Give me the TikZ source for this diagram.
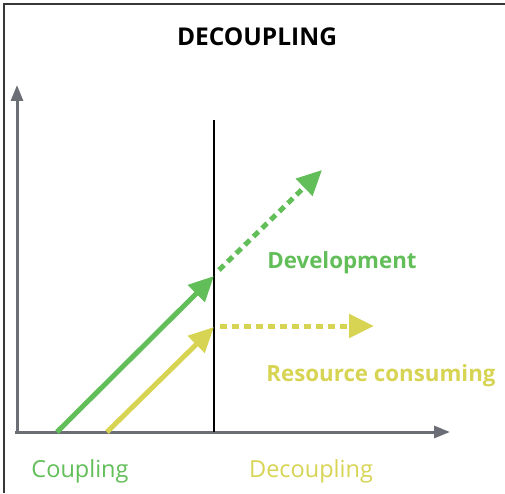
\documentclass[tikz,border=0pt]{standalone}
\usepackage{fontspec}
\setmainfont{Open Sans}
\usetikzlibrary{arrows.meta}
\definecolor{dcgreen}{RGB}{98, 190, 88}
\definecolor{dcyellow}{RGB}{215, 212, 84}
\definecolor{dcgray}{RGB}{108, 110, 117}
\definecolor{dcframe}{RGB}{55, 55, 55}

\begin{document}
\begin{tikzpicture}[x=1pt,y=1pt,
  axis/.style={line width=3pt,dcgray,-{Triangle[length=16pt,width=12pt]}},
  growth/.style={line width=5pt,-{Triangle[length=25pt,width=23pt]}},
  future/.style={growth,dash pattern=on 7pt off 5pt},
  lbl/.style={font=\fontsize{23.5}{27}\selectfont,inner sep=0pt},
  boldlbl/.style={lbl,font=\fontsize{22.3}{26}\selectfont\bfseries}]
\useasboundingbox (0,0) rectangle (505,493);

% Frame
\draw[dcframe,line width=1.2pt] (4,0) -- (4,489) -- (505,489);

% Title
\node[lbl,font=\fontsize{24.5}{28}\selectfont\bfseries] (title) at (257,456) {DECOUPLING};

% Axes
\coordinate (origin) at (17,61);
\coordinate (ytop) at (17,408);
\coordinate (xstart) at (15,61);
\coordinate (xend) at (450,61);
\draw[axis] (origin) -- (ytop);
\draw[axis] (xstart) -- (xend);

% Decoupling line
\coordinate (splitbot) at (214,61);
\coordinate (splittop) at (214,373);
\draw[black,line width=1.2pt] (splitbot) -- (splittop);

% Development
\coordinate (devstart) at (57,61);
\coordinate (devmid) at (214,217);
\coordinate (devgap) at (219,223);
\coordinate (devend) at (322,323);
\draw[growth,dcgreen] (devstart) -- (devmid);
\draw[future,dcgreen] (devgap) -- (devend);

% Resource consuming
\coordinate (resstart) at (107,61);
\coordinate (resmid) at (214,166);
\coordinate (resgap) at (220,167);
\coordinate (resend) at (374,167);
\draw[growth,dcyellow] (resstart) -- (resmid);
\draw[future,dcyellow] (resgap) -- (resend);

% Labels
\node[boldlbl,dcgreen] (devlabel) at (342,230) {Development};
\node[boldlbl,dcyellow] (reslabel) at (381,117) {Resource consuming};
\node[lbl,dcgreen] (couplabel) at (80,22) {Coupling};
\node[lbl,dcyellow] (decouplabel) at (311,22) {Decoupling};
\end{tikzpicture}
\end{document}
